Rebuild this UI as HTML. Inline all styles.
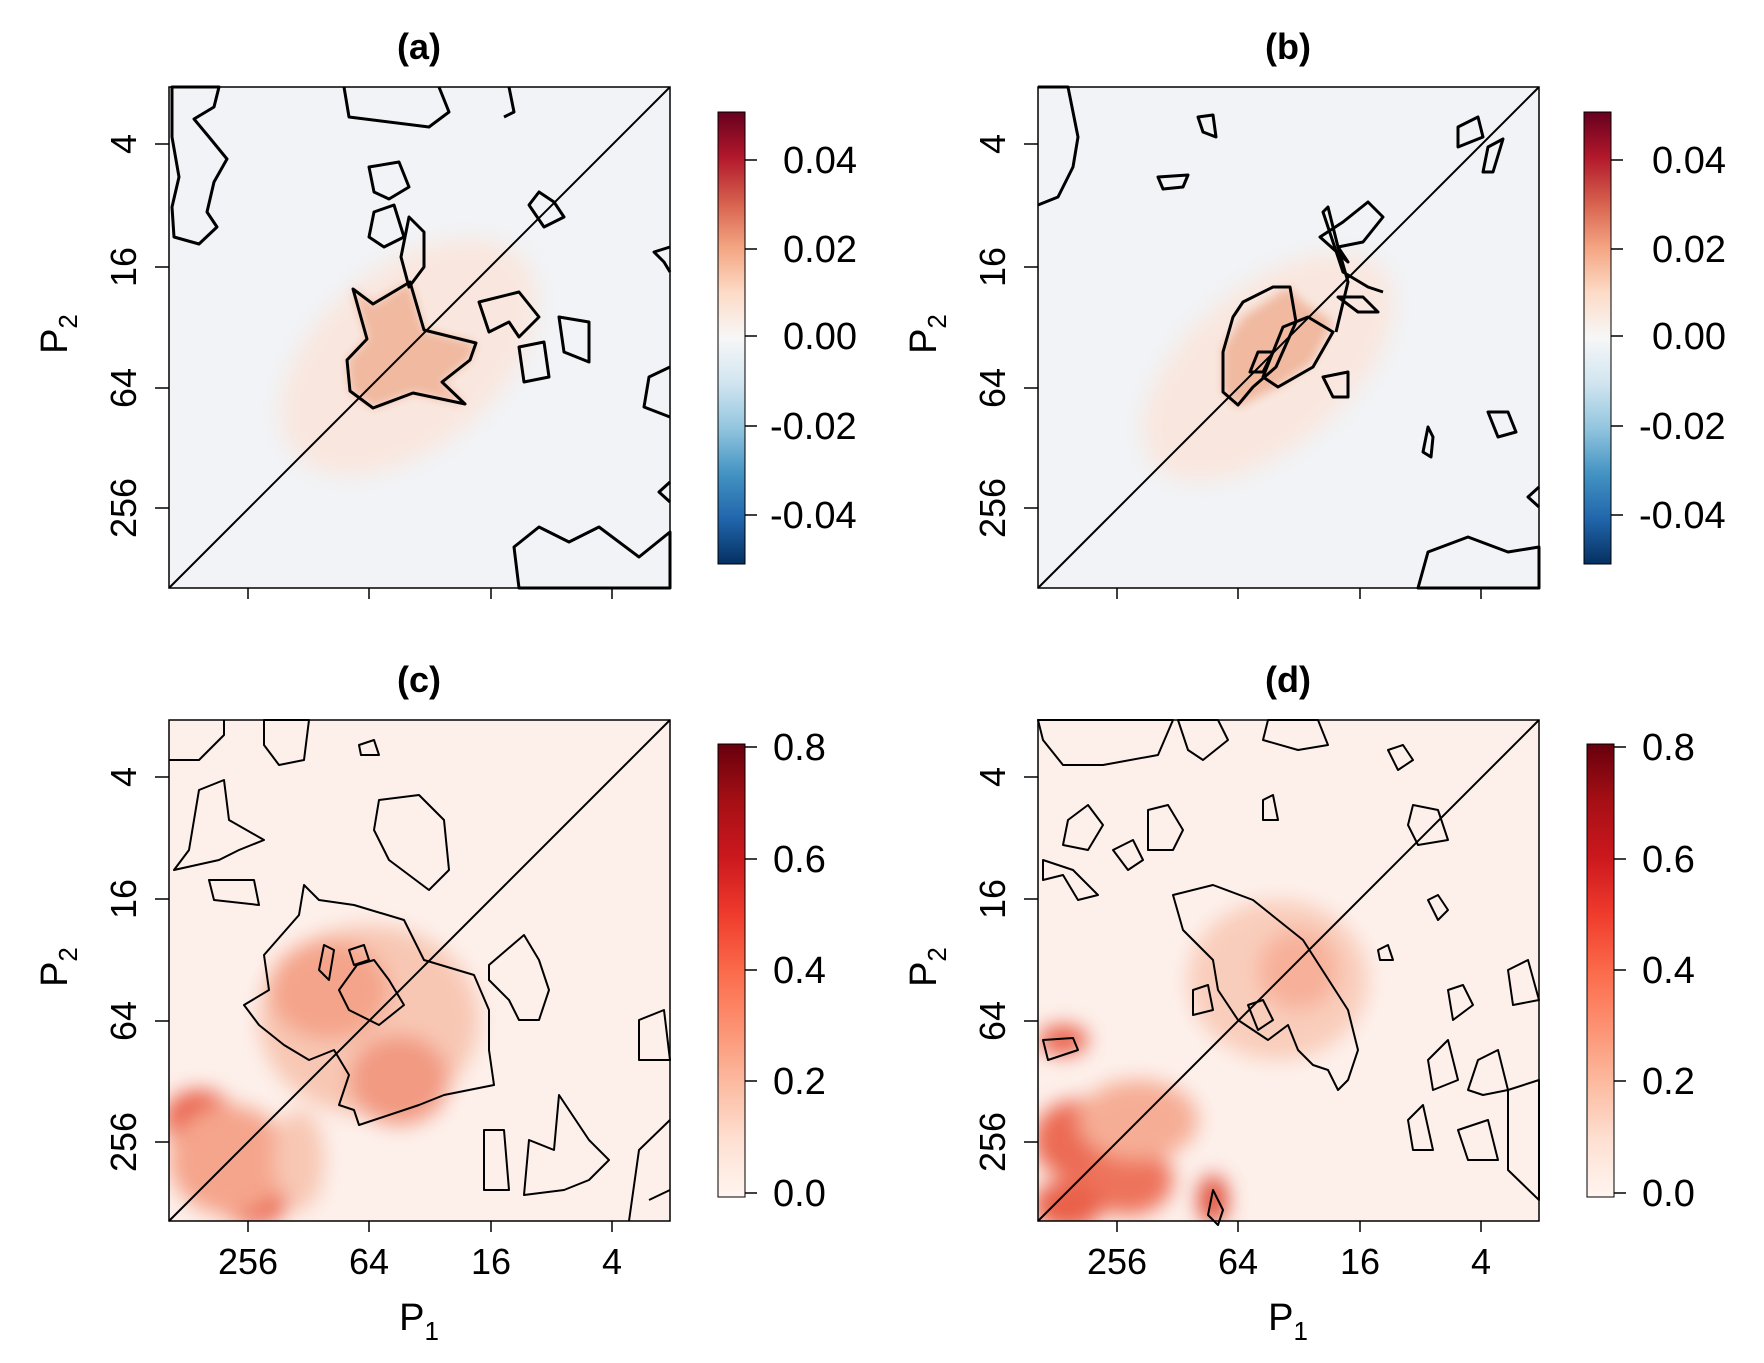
<!DOCTYPE html>
<html><head><meta charset="utf-8"><style>
html,body{margin:0;padding:0;background:#fff}
svg{display:block;font-family:"Liberation Sans",Arial,sans-serif}
</style></head><body>
<svg width="1764" height="1363" viewBox="0 0 1764 1363" xmlns="http://www.w3.org/2000/svg">
<defs>
<linearGradient id="rdbu" x1="0" y1="0" x2="0" y2="1">
<stop offset="0" stop-color="#67001f"/><stop offset="0.1" stop-color="#b2182b"/><stop offset="0.2" stop-color="#d6604d"/><stop offset="0.3" stop-color="#f4a582"/><stop offset="0.4" stop-color="#fddbc7"/><stop offset="0.5" stop-color="#f7f7f7"/><stop offset="0.6" stop-color="#d1e5f0"/><stop offset="0.7" stop-color="#92c5de"/><stop offset="0.8" stop-color="#4393c3"/><stop offset="0.9" stop-color="#2166ac"/><stop offset="1" stop-color="#053061"/>
</linearGradient>
<linearGradient id="reds" x1="0" y1="0" x2="0" y2="1">
<stop offset="0" stop-color="#67000d"/><stop offset="0.125" stop-color="#a50f15"/><stop offset="0.25" stop-color="#cb181d"/><stop offset="0.375" stop-color="#ef3b2c"/><stop offset="0.5" stop-color="#fb6a4a"/><stop offset="0.625" stop-color="#fc9272"/><stop offset="0.75" stop-color="#fcbba1"/><stop offset="0.875" stop-color="#fee0d2"/><stop offset="1" stop-color="#fff5f0"/>
</linearGradient>
<filter id="blur" x="-20%" y="-20%" width="140%" height="140%"><feGaussianBlur stdDeviation="10"/></filter>
<filter id="blur2" x="-20%" y="-20%" width="140%" height="140%"><feGaussianBlur stdDeviation="5"/></filter>
<clipPath id="clp"><rect x="0" y="0" width="501" height="501"/></clipPath>
</defs>

<!-- ===== Panel A ===== -->
<g transform="translate(169,87)">
<g clip-path="url(#clp)">
<rect width="501" height="501" fill="#f1f3f6"/>
<ellipse cx="240" cy="270" rx="150" ry="90" fill="#f9e7df" filter="url(#blur)" transform="rotate(-40 240 270)"/>
<path d="M184,202 L204,217 L241,195 L255,243 L307,256 L301,273 L273,295 L296,317 L244,306 L204,321 L181,304 L178,273 L198,252 Z" fill="#f0b9a0" filter="url(#blur2)"/>
</g>
<g fill="none" stroke="#000" stroke-width="3" stroke-linejoin="round">
<path d="M184,202 L204,217 L241,195 L255,243 L307,256 L301,273 L273,295 L296,317 L244,306 L204,321 L181,304 L178,273 L198,252 Z"/>
<path d="M3,0 L50,0 L45,20 L25,32 L40,50 L58,72 L45,95 L38,125 L48,140 L30,157 L5,150 L3,120 L10,90 L3,50 Z"/>
<path d="M350,501 L345,460 L370,440 L400,455 L430,440 L470,470 L501,445 L501,501 Z"/>
<path d="M200,80 L230,75 L240,100 L220,112 L205,105 Z"/>
<path d="M205,125 L225,118 L235,150 L215,160 L200,150 Z"/>
<path d="M240,130 L255,145 L255,180 L240,200 L232,170 Z"/>
<path d="M370,105 L385,115 L395,130 L375,140 L360,118 Z"/>
<path d="M310,215 L350,205 L370,230 L350,250 L340,235 L320,245 Z"/>
<path d="M390,230 L420,235 L420,275 L395,265 Z"/>
<path d="M350,260 L375,255 L380,290 L355,295 Z"/>
<path d="M270,0 L280,25 L260,40 L180,30 L175,0"/>
<path d="M340,0 L345,25 L335,30"/>
<path d="M501,160 L485,165 L495,175 L501,185"/>
<path d="M501,280 L480,290 L475,320 L501,330"/>
<path d="M501,395 L490,405 L501,415"/>
</g>
<line x1="0" y1="501" x2="501" y2="0" stroke="#000" stroke-width="2"/>
<rect width="501" height="501" fill="none" stroke="#000" stroke-width="1.5"/>
</g>

<!-- ===== Panel B ===== -->
<g transform="translate(1038,87)">
<g clip-path="url(#clp)">
<rect width="501" height="501" fill="#f1f3f6"/>
<ellipse cx="230" cy="280" rx="150" ry="80" fill="#f9e7df" filter="url(#blur)" transform="rotate(-40 230 280)"/>
<path d="M185,260 L205,230 L250,200 L265,215 L295,235 L275,275 L240,300 L200,320 L185,305 Z" fill="#f0b9a0" filter="url(#blur2)"/>
</g>
<g fill="none" stroke="#000" stroke-width="3" stroke-linejoin="round">
<path d="M195,230 L205,215 L235,200 L252,200 L258,235 L238,280 L215,300 L200,318 L185,305 L185,265 Z"/>
<path d="M245,240 L270,230 L295,245 L275,280 L240,300 L225,290 Z"/>
<path d="M220,265 L235,265 L225,285 L212,285 Z"/>
<path d="M0,0 L30,0 L40,50 L35,80 L20,110 L0,118"/>
<path d="M305,135 L330,115 L345,130 L325,155 L300,160 L310,175 L282,150 Z"/>
<path d="M298,245 L310,195 L300,160 L290,120 L285,125 L305,185 L330,200 L345,205"/>
<path d="M300,210 L325,210 L340,225 L320,225 Z"/>
<path d="M420,40 L440,30 L445,50 L420,60 Z"/>
<path d="M450,60 L465,52 L455,85 L445,85 Z"/>
<path d="M160,30 L175,28 L178,50 L165,45 Z"/>
<path d="M120,90 L150,88 L145,100 L125,102 Z"/>
<path d="M285,290 L310,285 L310,310 L295,310 Z"/>
<path d="M450,325 L470,325 L478,345 L460,350 Z"/>
<path d="M390,340 L395,350 L393,370 L385,365 Z"/>
<path d="M380,501 L390,465 L430,450 L470,465 L501,460 L501,501 Z"/>
<path d="M501,400 L490,410 L501,420"/>
</g>
<line x1="0" y1="501" x2="501" y2="0" stroke="#000" stroke-width="2"/>
<rect width="501" height="501" fill="none" stroke="#000" stroke-width="1.5"/>
</g>

<!-- ===== Panel C ===== -->
<g transform="translate(169,720)">
<g clip-path="url(#clp)">
<rect width="501" height="501" fill="#fdf0eb"/>
<g filter="url(#blur)">
<ellipse cx="200" cy="300" rx="110" ry="95" fill="#f8c7b4"/>
<ellipse cx="160" cy="270" rx="60" ry="50" fill="#f4a48a"/>
<ellipse cx="230" cy="360" rx="50" ry="45" fill="#f29a82"/>
<ellipse cx="30" cy="400" rx="35" ry="30" fill="#e9604a"/>
<ellipse cx="85" cy="470" rx="40" ry="35" fill="#e9604a"/>
<ellipse cx="60" cy="440" rx="60" ry="55" fill="#f5a58c"/>
<ellipse cx="130" cy="440" rx="25" ry="50" fill="#f8c7b4"/>
</g>
</g>
<g fill="none" stroke="#000" stroke-width="2" stroke-linejoin="round">
<path d="M130,195 L135,165 L150,180 L185,185 L235,200 L255,240 L305,255 L320,290 L320,330 L325,365 L275,375 L250,385 L190,405 L185,390 L170,385 L180,355 L165,330 L140,340 L115,325 L90,305 L75,285 L100,270 L95,235 Z"/>
<path d="M188,245 L205,240 L220,260 L235,285 L210,305 L180,290 L170,270 Z"/>
<path d="M155,225 L165,230 L160,260 L150,250 Z"/>
<path d="M180,230 L195,225 L200,240 L185,245 Z"/>
<path d="M0,40 L30,40 L55,15 L55,0"/>
<path d="M95,0 L140,0 L135,40 L110,45 L95,25 Z"/>
<path d="M190,25 L205,20 L210,35 L192,35 Z"/>
<path d="M30,70 L55,60 L60,100 L95,120 L70,130 L50,140 L5,150 L20,130 Z"/>
<path d="M40,160 L85,160 L90,185 L45,180 Z"/>
<path d="M210,80 L250,75 L275,100 L280,150 L260,170 L240,155 L220,140 L205,110 Z"/>
<path d="M320,245 L355,215 L370,240 L380,270 L370,300 L350,300 L340,280 L320,260 Z"/>
<path d="M470,300 L495,290 L501,340 L470,340 Z"/>
<path d="M315,410 L335,410 L340,470 L315,470 Z"/>
<path d="M390,375 L385,430 L360,420 L355,475 L395,470 L420,460 L440,440 L420,420 Z"/>
<path d="M501,400 L470,430 L460,501"/>
<path d="M480,480 L501,470"/>
</g>
<line x1="0" y1="501" x2="501" y2="0" stroke="#000" stroke-width="2"/>
<rect width="501" height="501" fill="none" stroke="#000" stroke-width="1.5"/>
</g>

<!-- ===== Panel D ===== -->
<g transform="translate(1038,720)">
<g clip-path="url(#clp)">
<rect width="501" height="501" fill="#fdf0eb"/>
<g filter="url(#blur)">
<ellipse cx="240" cy="260" rx="90" ry="80" fill="#f9cdbb"/>
<ellipse cx="260" cy="250" rx="40" ry="40" fill="#f7b09a"/>
<ellipse cx="40" cy="420" rx="45" ry="40" fill="#ec6a52"/>
<ellipse cx="90" cy="460" rx="45" ry="35" fill="#ee735b"/>
<ellipse cx="30" cy="485" rx="35" ry="25" fill="#e9604a"/>
<ellipse cx="100" cy="400" rx="60" ry="40" fill="#f6ad95"/>
<ellipse cx="25" cy="320" rx="25" ry="15" fill="#e9604a"/>
<ellipse cx="175" cy="480" rx="15" ry="25" fill="#e0503b"/>
</g>
</g>
<g fill="none" stroke="#000" stroke-width="2" stroke-linejoin="round">
<path d="M135,175 L175,165 L215,180 L265,220 L310,290 L320,330 L310,360 L300,370 L290,350 L275,345 L260,330 L250,305 L230,320 L200,300 L180,270 L175,240 L145,210 Z"/>
<path d="M5,320 L35,318 L40,330 L10,340 Z"/>
<path d="M170,495 L175,470 L185,490 L180,505 Z"/>
<path d="M155,270 L170,265 L175,290 L155,295 Z"/>
<path d="M210,285 L225,280 L235,300 L220,310 Z"/>
<path d="M0,0 L135,0 L120,35 L65,45 L25,45 L5,20 Z"/>
<path d="M30,100 L50,85 L65,105 L50,130 L25,125 Z"/>
<path d="M110,90 L130,85 L145,110 L135,130 L110,130 Z"/>
<path d="M5,140 L35,150 L60,175 L40,180 L25,155 L5,160 Z"/>
<path d="M75,130 L95,120 L105,140 L90,150 Z"/>
<path d="M225,80 L235,75 L240,100 L225,100 Z"/>
<path d="M140,0 L180,0 L190,20 L165,40 L150,30 Z"/>
<path d="M230,0 L280,0 L290,25 L260,30 L225,20 Z"/>
<path d="M350,30 L365,25 L375,40 L360,50 Z"/>
<path d="M390,180 L400,175 L410,190 L400,200 Z"/>
<path d="M410,270 L425,265 L435,285 L415,300 Z"/>
<path d="M470,250 L490,240 L501,280 L475,285 Z"/>
<path d="M390,340 L410,320 L420,360 L395,370 Z"/>
<path d="M430,370 L440,340 L460,330 L470,370 L445,375 Z"/>
<path d="M370,400 L385,385 L395,430 L375,430 Z"/>
<path d="M420,410 L450,400 L460,440 L430,440 Z"/>
<path d="M470,370 L501,360 L501,480 L470,450 Z"/>
<path d="M340,230 L350,225 L355,240 L342,240 Z"/>
<path d="M375,85 L400,90 L410,120 L380,125 L370,105 Z"/>
</g>
<line x1="0" y1="501" x2="501" y2="0" stroke="#000" stroke-width="2"/>
<rect width="501" height="501" fill="none" stroke="#000" stroke-width="1.5"/>
</g>

<!-- Axes text/ticks for all panels -->
<g font-size="36" fill="#000">
<!-- Panel A -->
<g transform="translate(169,87)">
<text x="250" y="-28" text-anchor="middle" font-weight="bold" font-size="36">(a)</text>
<g stroke="#000" stroke-width="1.5"><line x1="-14" y1="57" x2="0" y2="57"/><line x1="-14" y1="180" x2="0" y2="180"/><line x1="-14" y1="301" x2="0" y2="301"/><line x1="-14" y1="421" x2="0" y2="421"/>
<line x1="79" y1="501" x2="79" y2="512"/><line x1="200" y1="501" x2="200" y2="512"/><line x1="322" y1="501" x2="322" y2="512"/><line x1="443" y1="501" x2="443" y2="512"/></g>
<text transform="translate(-33,57) rotate(-90)" text-anchor="middle">4</text>
<text transform="translate(-33,180) rotate(-90)" text-anchor="middle">16</text>
<text transform="translate(-33,301) rotate(-90)" text-anchor="middle">64</text>
<text transform="translate(-33,421) rotate(-90)" text-anchor="middle">256</text>
<text transform="translate(-102,247) rotate(-90)" text-anchor="middle" font-size="38">P<tspan font-size="26" dy="10">2</tspan></text>
<rect x="549" y="25" width="27" height="452" fill="url(#rdbu)" stroke="#000" stroke-width="1"/>
<g stroke="#000" stroke-width="1.5"><line x1="576" y1="73" x2="588" y2="73"/><line x1="576" y1="162" x2="588" y2="162"/><line x1="576" y1="249" x2="588" y2="249"/><line x1="576" y1="339" x2="588" y2="339"/><line x1="576" y1="428" x2="588" y2="428"/></g>
<g font-size="38"><text x="614" y="86">0.04</text><text x="614" y="175">0.02</text><text x="614" y="262">0.00</text><text x="601" y="352">-0.02</text><text x="601" y="441">-0.04</text></g>
</g>
<!-- Panel B -->
<g transform="translate(1038,87)">
<text x="250" y="-28" text-anchor="middle" font-weight="bold" font-size="36">(b)</text>
<g stroke="#000" stroke-width="1.5"><line x1="-14" y1="57" x2="0" y2="57"/><line x1="-14" y1="180" x2="0" y2="180"/><line x1="-14" y1="301" x2="0" y2="301"/><line x1="-14" y1="421" x2="0" y2="421"/>
<line x1="79" y1="501" x2="79" y2="512"/><line x1="200" y1="501" x2="200" y2="512"/><line x1="322" y1="501" x2="322" y2="512"/><line x1="443" y1="501" x2="443" y2="512"/></g>
<text transform="translate(-33,57) rotate(-90)" text-anchor="middle">4</text>
<text transform="translate(-33,180) rotate(-90)" text-anchor="middle">16</text>
<text transform="translate(-33,301) rotate(-90)" text-anchor="middle">64</text>
<text transform="translate(-33,421) rotate(-90)" text-anchor="middle">256</text>
<text transform="translate(-102,247) rotate(-90)" text-anchor="middle" font-size="38">P<tspan font-size="26" dy="10">2</tspan></text>
<rect x="546" y="25" width="27" height="452" fill="url(#rdbu)" stroke="#000" stroke-width="1"/>
<g stroke="#000" stroke-width="1.5"><line x1="573" y1="73" x2="585" y2="73"/><line x1="573" y1="162" x2="585" y2="162"/><line x1="573" y1="249" x2="585" y2="249"/><line x1="573" y1="339" x2="585" y2="339"/><line x1="573" y1="428" x2="585" y2="428"/></g>
<g font-size="38"><text x="614" y="86">0.04</text><text x="614" y="175">0.02</text><text x="614" y="262">0.00</text><text x="601" y="352">-0.02</text><text x="601" y="441">-0.04</text></g>
</g>
<!-- Panel C -->
<g transform="translate(169,720)">
<text x="250" y="-28" text-anchor="middle" font-weight="bold" font-size="36">(c)</text>
<g stroke="#000" stroke-width="1.5"><line x1="-14" y1="57" x2="0" y2="57"/><line x1="-14" y1="179" x2="0" y2="179"/><line x1="-14" y1="301" x2="0" y2="301"/><line x1="-14" y1="422" x2="0" y2="422"/>
<line x1="79" y1="501" x2="79" y2="512"/><line x1="200" y1="501" x2="200" y2="512"/><line x1="322" y1="501" x2="322" y2="512"/><line x1="443" y1="501" x2="443" y2="512"/></g>
<text transform="translate(-33,57) rotate(-90)" text-anchor="middle">4</text>
<text transform="translate(-33,179) rotate(-90)" text-anchor="middle">16</text>
<text transform="translate(-33,301) rotate(-90)" text-anchor="middle">64</text>
<text transform="translate(-33,422) rotate(-90)" text-anchor="middle">256</text>
<text transform="translate(-102,247) rotate(-90)" text-anchor="middle" font-size="38">P<tspan font-size="26" dy="10">2</tspan></text>
<text x="79" y="554" text-anchor="middle">256</text><text x="200" y="554" text-anchor="middle">64</text><text x="322" y="554" text-anchor="middle">16</text><text x="443" y="554" text-anchor="middle">4</text>
<text x="250" y="610" text-anchor="middle" font-size="38">P<tspan font-size="26" dy="10">1</tspan></text>
<rect x="549" y="24" width="27" height="453" fill="url(#reds)" stroke="#000" stroke-width="1"/>
<g stroke="#000" stroke-width="1.5"><line x1="576" y1="27" x2="588" y2="27"/><line x1="576" y1="139" x2="588" y2="139"/><line x1="576" y1="250" x2="588" y2="250"/><line x1="576" y1="361" x2="588" y2="361"/><line x1="576" y1="473" x2="588" y2="473"/></g>
<g font-size="38"><text x="604" y="40">0.8</text><text x="604" y="152">0.6</text><text x="604" y="263">0.4</text><text x="604" y="374">0.2</text><text x="604" y="486">0.0</text></g>
</g>
<!-- Panel D -->
<g transform="translate(1038,720)">
<text x="250" y="-28" text-anchor="middle" font-weight="bold" font-size="36">(d)</text>
<g stroke="#000" stroke-width="1.5"><line x1="-14" y1="57" x2="0" y2="57"/><line x1="-14" y1="179" x2="0" y2="179"/><line x1="-14" y1="301" x2="0" y2="301"/><line x1="-14" y1="422" x2="0" y2="422"/>
<line x1="79" y1="501" x2="79" y2="512"/><line x1="200" y1="501" x2="200" y2="512"/><line x1="322" y1="501" x2="322" y2="512"/><line x1="443" y1="501" x2="443" y2="512"/></g>
<text transform="translate(-33,57) rotate(-90)" text-anchor="middle">4</text>
<text transform="translate(-33,179) rotate(-90)" text-anchor="middle">16</text>
<text transform="translate(-33,301) rotate(-90)" text-anchor="middle">64</text>
<text transform="translate(-33,422) rotate(-90)" text-anchor="middle">256</text>
<text transform="translate(-102,247) rotate(-90)" text-anchor="middle" font-size="38">P<tspan font-size="26" dy="10">2</tspan></text>
<text x="79" y="554" text-anchor="middle">256</text><text x="200" y="554" text-anchor="middle">64</text><text x="322" y="554" text-anchor="middle">16</text><text x="443" y="554" text-anchor="middle">4</text>
<text x="250" y="610" text-anchor="middle" font-size="38">P<tspan font-size="26" dy="10">1</tspan></text>
<rect x="549" y="24" width="27" height="453" fill="url(#reds)" stroke="#000" stroke-width="1"/>
<g stroke="#000" stroke-width="1.5"><line x1="576" y1="27" x2="588" y2="27"/><line x1="576" y1="139" x2="588" y2="139"/><line x1="576" y1="250" x2="588" y2="250"/><line x1="576" y1="361" x2="588" y2="361"/><line x1="576" y1="473" x2="588" y2="473"/></g>
<g font-size="38"><text x="604" y="40">0.8</text><text x="604" y="152">0.6</text><text x="604" y="263">0.4</text><text x="604" y="374">0.2</text><text x="604" y="486">0.0</text></g>
</g>
</g>
</svg>
</body></html>
